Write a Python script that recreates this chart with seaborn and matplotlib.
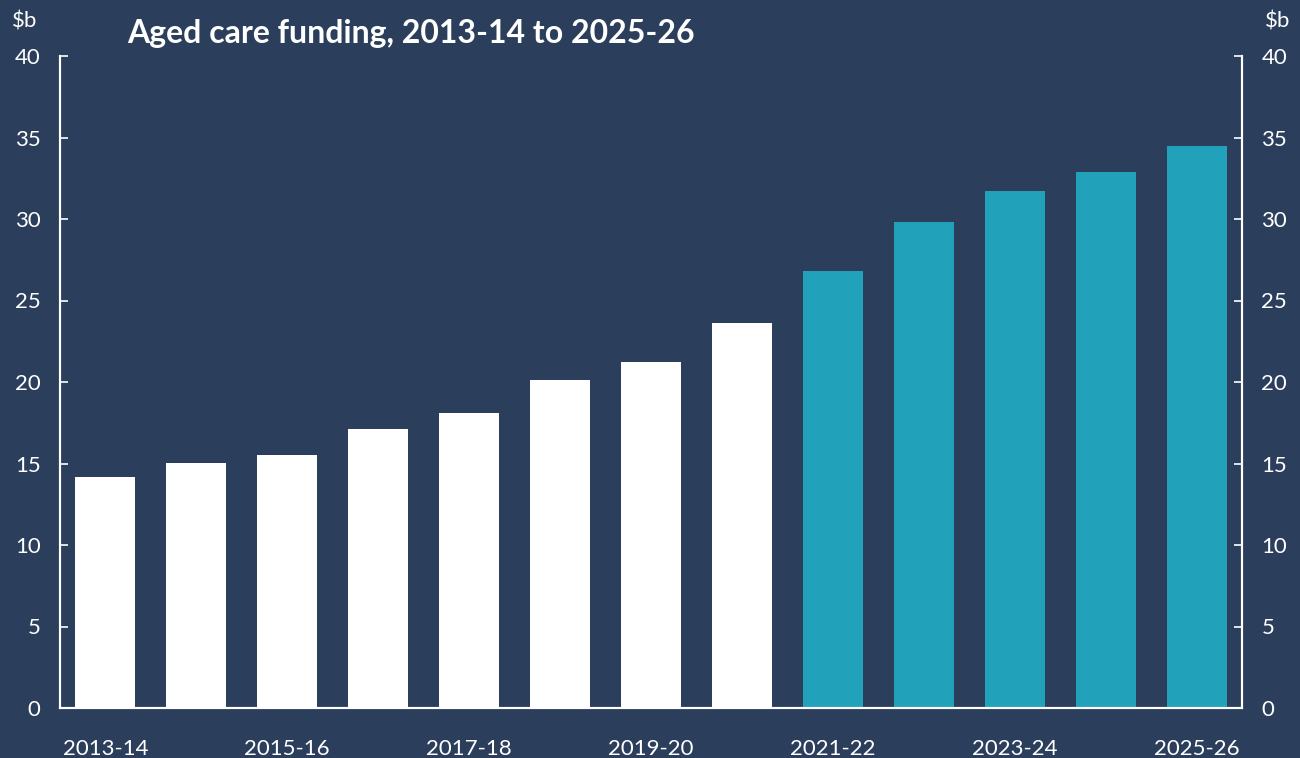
import matplotlib
matplotlib.use("Agg")
import matplotlib.pyplot as plt
import seaborn as sns
import numpy as np

# Aged care funding by financial year ($b)
years = ["2013-14", "2014-15", "2015-16", "2016-17", "2017-18", "2018-19", "2019-20",
         "2020-21", "2021-22", "2022-23", "2023-24", "2024-25", "2025-26"]
funding = [14.2, 15.05, 15.5, 17.1, 18.1, 20.1, 21.2, 23.6, 26.8, 29.8, 31.7, 32.9, 34.5]
period = ["actual"] * 8 + ["estimate"] * 5

BG = "#2B3F5C"
WHITE = "#FFFFFF"
TEAL = "#22A1BB"

sns.set_theme(style="white")
plt.rcParams["font.family"] = ["Lato", "DejaVu Sans"]

fig = plt.figure(figsize=(13, 7.58), dpi=100, facecolor=BG)
ax = fig.add_axes([60 / 1300, 50 / 758, 1182 / 1300, 652 / 758])
ax.set_facecolor(BG)

sns.barplot(x=years, y=funding, hue=period, palette={"actual": WHITE, "estimate": TEAL},
            width=0.66, dodge=False, legend=False, saturation=1, linewidth=0,
            edgecolor="none", ax=ax)

ax.set_xlim(-0.5, 12.5)
ax.set_ylim(0, 40)
ax.set_xlabel("")
ax.set_ylabel("")

# x axis: labels every other year, tick marks between bars
ax.set_xticks(np.arange(0, 13, 2))
ax.set_xticklabels(years[::2])
ax.set_xticks(np.arange(0.5, 12, 1), minor=True)
ax.tick_params(axis="x", which="major", length=0, pad=22, labelsize=16, colors=WHITE)
ax.tick_params(axis="x", which="minor", direction="in", length=5, width=1.2, color=WHITE)

yt = np.arange(0, 41, 5)
ax.set_yticks(yt)
ax.tick_params(axis="y", direction="in", length=6, width=1.2, color=WHITE,
               labelcolor=WHITE, labelsize=16, pad=14)

ax2 = ax.twinx()
ax2.set_ylim(0, 40)
ax2.set_yticks(yt)
ax2.tick_params(axis="y", direction="in", length=6, width=1.2, color=WHITE,
                labelcolor=WHITE, labelsize=16, pad=14)

for a in (ax, ax2):
    for side in ("left", "right", "bottom"):
        a.spines[side].set_visible(True)
        a.spines[side].set_color(WHITE)
        a.spines[side].set_linewidth(1.5)
    a.spines["top"].set_visible(False)

fig.text(12 / 1300, 1 - 22 / 758, "$b", color=WHITE, fontsize=16, va="center", ha="left")
fig.text(1290 / 1300, 1 - 22 / 758, "$b", color=WHITE, fontsize=16, va="center", ha="right")
fig.text(127 / 1300, 1 - 33 / 758, "Aged care funding, 2013-14 to 2025-26", color=WHITE,
         fontsize=23, fontweight="bold", va="center", ha="left")

fig.savefig("out.png", dpi=100, facecolor=BG)
